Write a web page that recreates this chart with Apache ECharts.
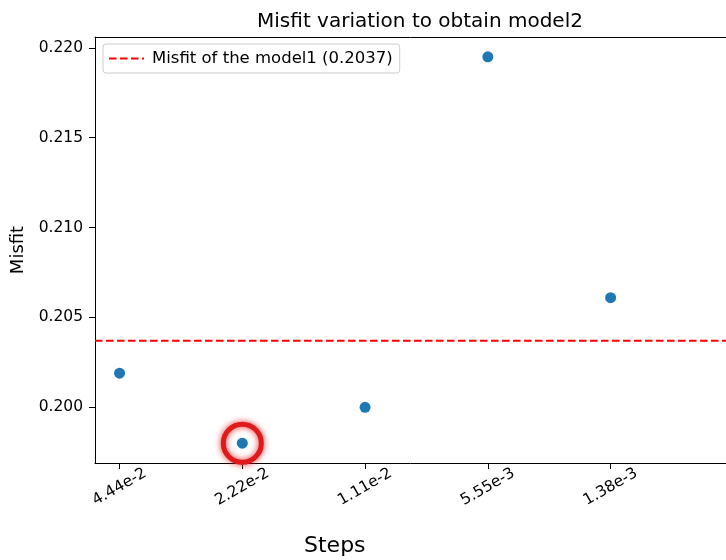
<!DOCTYPE html>
<html>
<head>
<meta charset="utf-8">
<script src="https://cdn.jsdelivr.net/npm/echarts@6/dist/echarts.min.js"></script>
<style>
  html, body { margin: 0; padding: 0; background: #fff; }
  #chart { width: 726px; height: 560px; }
</style>
</head>
<body>
<div id="chart"></div>
<script>
// step sizes (x tick labels) and misfit of each step
const steps = ['4.44e-2', '2.22e-2', '1.11e-2', '5.55e-3', '1.38e-3'];
const misfit = [0.2019, 0.1980, 0.2000, 0.2195, 0.2061];
const yTicks = [0.200, 0.205, 0.210, 0.215, 0.220];
const misfitModel1 = 0.2037;
const bestIndex = 1; // circled point

const font = 'DejaVu Sans';
const xMin = -0.2, xMax = 4.94;

let chart = echarts.init(document.getElementById('chart'));

let points = misfit.map((v, i) => [i, v]);
let xIdx = steps.map((s, i) => i);

let option = {
  animation: false,
  title: {
    text: 'Misfit variation to obtain model2',
    left: 415,
    textAlign: 'center',
    top: 7,
    textStyle: { fontFamily: font, fontSize: 20, fontWeight: 'normal', color: '#000' }
  },
  legend: {
    left: 103,
    top: 44,
    data: ['Misfit of the model1 (0.2037)'],
    itemWidth: 35,
    itemHeight: 12,
    itemGap: 13,
    padding: [6, 7, 6, 5],
    borderColor: '#cccccc',
    borderWidth: 1,
    borderRadius: 3,
    backgroundColor: '#fff',
    itemStyle: { opacity: 0 },
    textStyle: { fontFamily: font, fontSize: 16.5, color: '#000', padding: [0, 0, 0, 3] }
  },
  grid: { left: 95, top: 37, right: 0, bottom: 97, show: false },
  xAxis: [
    {
      type: 'value',
      min: xMin,
      max: xMax,
      splitLine: { show: false },
      axisLine: { show: true, onZero: false, lineStyle: { color: '#000', width: 1 } },
      axisTick: { show: true, customValues: xIdx, length: 6, lineStyle: { color: '#000' } },
      axisLabel: {
        customValues: xIdx,
        formatter: (v) => steps[Math.round(v)],
        rotate: 30,
        align: 'center',
        verticalAlign: 'middle',
        margin: 24,
        fontFamily: font,
        fontSize: 15.5,
        color: '#000'
      }
    },
    {
      type: 'value',
      position: 'top',
      min: xMin,
      max: xMax,
      splitLine: { show: false },
      axisLine: { show: true, onZero: false, lineStyle: { color: '#000', width: 1 } },
      axisTick: { show: false },
      axisLabel: { show: false }
    }
  ],
  yAxis: {
    type: 'value',
    min: 0.1969,
    max: 0.2206,
    name: 'Misfit',
    nameLocation: 'middle',
    nameGap: 67,
    nameTextStyle: { fontFamily: font, fontSize: 18, color: '#000' },
    splitLine: { show: false },
    axisLine: { show: true, onZero: false, lineStyle: { color: '#000', width: 1 } },
    axisTick: { show: true, customValues: yTicks, length: 6, lineStyle: { color: '#000' } },
    axisLabel: {
      customValues: yTicks,
      formatter: (v) => v.toFixed(3),
      margin: 12,
      fontFamily: font,
      fontSize: 15.5,
      color: '#000'
    }
  },
  graphic: [
    {
      type: 'text',
      left: 304,
      top: 535,
      style: { text: 'Steps', font: '22px "DejaVu Sans"', fill: '#000' }
    }
  ],
  series: [
    {
      name: 'Misfit of the model1 (0.2037)',
      type: 'line',
      data: [[xMin, misfitModel1], [xMax, misfitModel1]],
      symbol: 'none',
      showSymbol: false,
      lineStyle: { color: '#ff0000', type: [7.5, 3.5], width: 2 },
      itemStyle: { color: '#ff0000' },
      z: 1
    },
    {
      name: 'misfit',
      type: 'scatter',
      data: points,
      symbolSize: 11,
      itemStyle: { color: '#1f77b4', opacity: 1 },
      z: 3
    },
    {
      name: 'best',
      type: 'scatter',
      data: [points[bestIndex]],
      symbol: 'circle',
      symbolSize: 38,
      itemStyle: {
        color: 'rgba(0,0,0,0)',
        borderColor: '#e01a1a',
        borderWidth: 5,
        opacity: 1,
        shadowColor: 'rgba(224,26,26,0.9)',
        shadowBlur: 6
      },
      z: 2
    }
  ]
};

chart.setOption(option);
window.addEventListener('resize', function () {
  chart.resize();
});
</script>
</body>
</html>
